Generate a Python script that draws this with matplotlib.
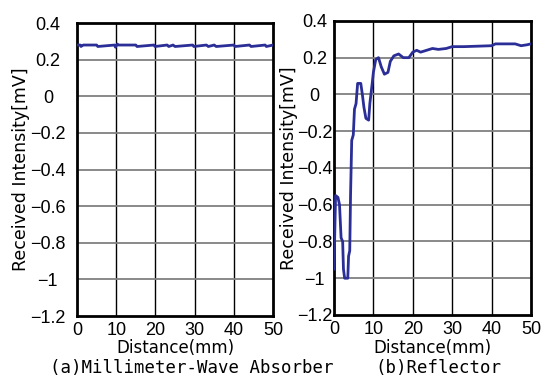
import matplotlib
matplotlib.use("Agg")
import matplotlib.pyplot as plt

# (a) millimeter-wave absorber
dist_a = [0, 0.8, 1.0, 1.6, 5.0, 5.3, 9.6, 9.8, 10.3, 10.6, 15.0, 15.3, 19.6, 19.9,
          23.0, 23.4, 24.5, 25.0, 29.5, 29.8, 33.0, 33.5, 35.0, 35.5, 40.0, 40.3,
          44.0, 44.4, 48.0, 48.3, 50.0]
inten_a = [0.28, 0.28, 0.272, 0.28, 0.28, 0.272, 0.28, 0.268, 0.285, 0.28, 0.28, 0.272,
           0.28, 0.272, 0.28, 0.272, 0.28, 0.272, 0.28, 0.272, 0.28, 0.272, 0.28, 0.272,
           0.28, 0.272, 0.28, 0.272, 0.28, 0.272, 0.28]

# (b) reflector
dist_b = [0, 0.15, 0.4, 1.0, 1.4, 1.8, 2.2, 2.4, 2.7, 3.5, 3.7, 4.0, 4.2, 4.5, 4.9,
          5.2, 5.6, 6.0, 6.8, 7.2, 7.6, 8.1, 8.8, 9.1, 9.7, 10.0, 10.6, 11.3, 12.0,
          12.8, 13.7, 14.3, 15.2, 16.4, 17.6, 19.0, 20.0, 21.0, 22.0, 23.5, 25.0,
          26.5, 28.5, 30.0, 33.0, 40.0, 41.0, 44.0, 46.0, 47.5, 49.0, 50.0]
inten_b = [-0.95, -0.8, -0.55, -0.56, -0.6, -0.78, -0.8, -0.95, -1.0, -1.0, -0.88,
           -0.85, -0.55, -0.25, -0.22, -0.08, -0.05, 0.06, 0.06, 0.0, -0.07, -0.13,
           -0.14, -0.05, 0.06, 0.12, 0.19, 0.2, 0.15, 0.11, 0.12, 0.18, 0.21, 0.22,
           0.2, 0.2, 0.23, 0.24, 0.23, 0.24, 0.25, 0.245, 0.25, 0.26, 0.26, 0.265,
           0.275, 0.275, 0.275, 0.265, 0.27, 0.275]

yticks = [0.4, 0.2, 0, -0.2, -0.4, -0.6, -0.8, -1, -1.2]
ytick_labels = ["0.4", "0.2", "0", "\u22120.2", "\u22120.4", "\u22120.6", "\u22120.8", "\u22121", "\u22121.2"]
xticks = [0, 10, 20, 30, 40, 50]

plt.rcParams['font.family'] = ['Liberation Sans', 'DejaVu Sans']

fig = plt.figure(figsize=(5.47, 3.78), dpi=100)
ax1 = fig.add_axes([0.1408, 0.164, 0.3583, 0.775])
ax2 = fig.add_axes([0.6106, 0.1667, 0.360, 0.778])

# pad (points) from spine to centre of y tick labels, ylabel x in axes fraction
panels = [
    (ax1, dist_a, inten_a, 21, -0.24),
    (ax2, dist_b, inten_b, 14, -0.183),
]

for ax, x, y, pad, ylab_x in panels:
    ax.set_xlim(0, 50)
    ax.set_ylim(-1.2, 0.4)
    ax.set_xticks(xticks)
    ax.set_yticks(yticks)
    ax.set_yticklabels(ytick_labels)
    ax.tick_params(length=0, labelsize=13)
    ax.tick_params(axis='x', pad=4)
    ax.tick_params(axis='y', pad=pad)
    for lab in ax.get_yticklabels():
        lab.set_horizontalalignment('center')
    for v in xticks[1:-1]:
        ax.axvline(v, color='black', lw=1.0, zorder=1)
    for v in yticks[1:-1]:
        ax.axhline(v, color='#808080', lw=1.3, zorder=1)
    for s in ax.spines.values():
        s.set_linewidth(2.0)
    ax.plot(x, y, color='#2a2e96', lw=2.0, zorder=3)
    ax.set_xlabel("Distance(mm)", fontsize=12, family='DejaVu Sans')
    ax.xaxis.set_label_coords(0.5, -0.08)
    ax.set_ylabel("Received Intensity[mV]", fontsize=12.5, family='DejaVu Sans')
    ax.yaxis.set_label_coords(ylab_x, 0.5)

fig.text(0.351, 0.027, "(a)Millimeter-Wave Absorber", family='DejaVu Sans Mono',
         fontsize=12.5, ha='center', va='center')
fig.text(0.802, 0.027, "(b)Reflector", family='DejaVu Sans Mono',
         fontsize=12.5, ha='center', va='center')

fig.savefig("out.png", dpi=100)
